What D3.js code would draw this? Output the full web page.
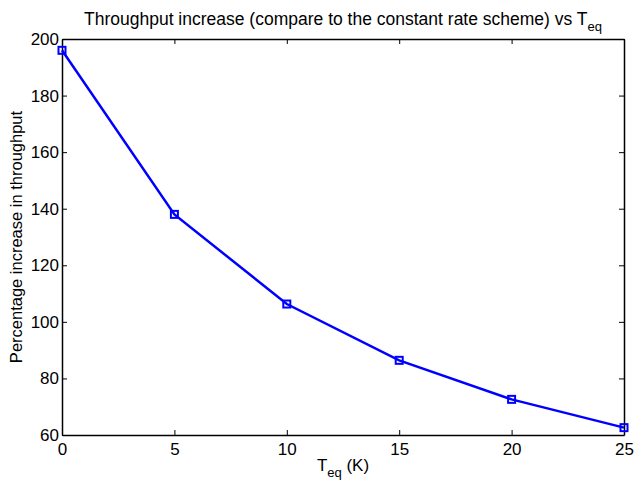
<!DOCTYPE html>
<html>
<head>
<meta charset="utf-8">
<script src="https://cdn.jsdelivr.net/npm/d3@7"></script>
<style>
  body { margin: 0; background: #fff; }
  text { font-family: "Liberation Sans", Arial, sans-serif; fill: #000; }
</style>
</head>
<body>
<script>
var width = 634
var height = 480

// data
var teq = [0, 5, 10, 15, 20, 25];
var increase = [196, 138, 106.3, 86.4, 72.6, 62.6];
var xTicks = [0, 5, 10, 15, 20, 25];
var yTicks = [60, 80, 100, 120, 140, 160, 180, 200];

// plot box (don't call it "top", that's window.top)
var padL = 62, padR = 624, padT = 39, padB = 435;

var svg = d3.select("body").append("svg")
    .attr("width", width)
    .attr("height", height)

var x = d3.scaleLinear().domain([0, 25]).range([padL, padR]);
var y = d3.scaleLinear().domain([60, 200]).range([padB, padT]);

// axes, ticks pointing inward like matlab
svg.append("g")
    .attr("transform", "translate(0," + padB + ")")
    .call(d3.axisBottom(x).tickValues(xTicks).tickSizeInner(-5).tickSizeOuter(0).tickPadding(8))
svg.append("g")
    .attr("transform", "translate(0," + padT + ")")
    .call(d3.axisTop(x).tickValues(xTicks).tickSizeInner(-5).tickSizeOuter(0).tickFormat(""))
svg.append("g")
    .attr("transform", "translate(" + padL + ",0)")
    .call(d3.axisLeft(y).tickValues(yTicks).tickSizeInner(-5).tickSizeOuter(0).tickPadding(3))
svg.append("g")
    .attr("transform", "translate(" + padR + ",0)")
    .call(d3.axisRight(y).tickValues(yTicks).tickSizeInner(-5).tickSizeOuter(0).tickFormat(""))

svg.selectAll(".domain").attr("stroke", "#000").attr("stroke-width", 1.5)
svg.selectAll(".tick line").attr("stroke", "#000")
svg.selectAll(".tick text")
    .style("font-size", "17px")
    .style("font-family", "'Liberation Sans', Arial, sans-serif")

// the line
var line = d3.line()
    .x(function(d, i) { return x(teq[i]); })
    .y(function(d) { return y(d); });

svg.append("path")
    .datum(increase)
    .attr("d", line)
    .attr("fill", "none")
    .attr("stroke", "#0000ff")
    .attr("stroke-width", 2.5)

// square markers
svg.selectAll(".marker")
    .data(increase)
    .enter().append("rect")
    .attr("class", "marker")
    .attr("x", function(d, i) { return x(teq[i]) - 3.5; })
    .attr("y", function(d) { return y(d) - 3.5; })
    .attr("width", 7)
    .attr("height", 7)
    .attr("fill", "none")
    .attr("stroke", "#0000ff")
    .attr("stroke-width", 2)

// title
var title = svg.append("text")
    .attr("x", (padL + padR) / 2)
    .attr("y", 25)
    .attr("text-anchor", "middle")
    .style("font-size", "17.5px")
title.append("tspan").text("Throughput increase (compare to the constant rate scheme) vs T")
title.append("tspan").attr("dy", 6).style("font-size", "13px").text("eq")

// x label
var xlab = svg.append("text")
    .attr("x", (padL + padR) / 2)
    .attr("y", 471)
    .attr("text-anchor", "middle")
    .style("font-size", "17px")
xlab.append("tspan").text("T")
xlab.append("tspan").attr("dy", 6).style("font-size", "13px").text("eq")
xlab.append("tspan").attr("dy", -6).text(" (K)")

// y label
svg.append("text")
    .attr("transform", "translate(22," + (padT + padB) / 2 + ") rotate(-90)")
    .attr("text-anchor", "middle")
    .style("font-size", "16.5px")
    .text("Percentage increase in throughput")
</script>
</body>
</html>
